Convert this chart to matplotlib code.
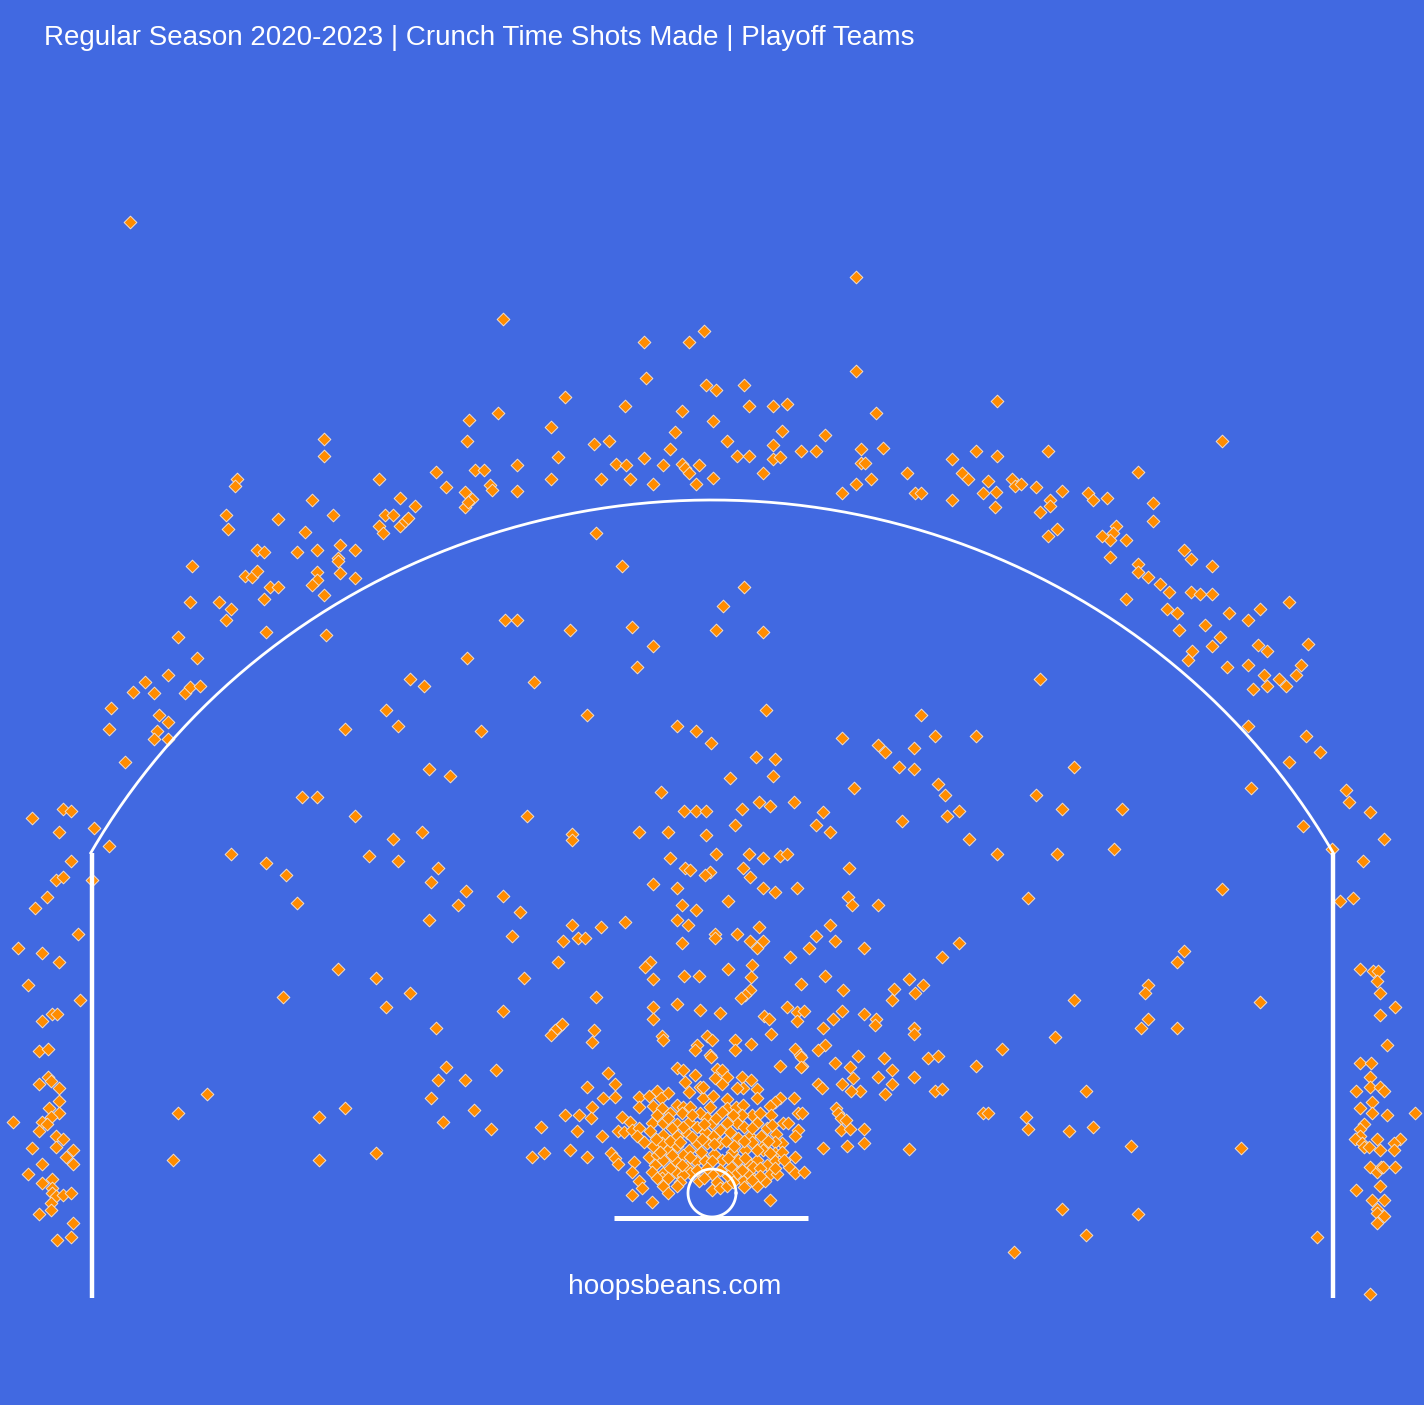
import numpy as np
import matplotlib
matplotlib.use("Agg")
import matplotlib.pyplot as plt

plt.rcParams['font.family'] = ['Liberation Sans', 'DejaVu Sans']

title = "Regular Season 2020-2023 | Crunch Time Shots Made | Playoff Teams"
site = "hoopsbeans.com"

# shot locations (chart x, chart y), y grows downward
above_arc_left = [(130,222),(503,319),(644,342),(689,342),(646,378),(565,397),(625,406),(682,411),(498,413),(469,420),
    (551,427),(675,432),(467,441),(324,439),(324,456),(594,444),(609,441),(670,449),(558,457),(644,458),(663,465),
    (616,464),(626,465),(682,464),(699,465),(685,468),(689,473),(237,479),(235,486),(226,515),(228,529),(312,500),
    (333,515),(278,519),(305,532),(257,550),(264,552),(297,552),(317,550),(340,545),(355,550),(338,558),(338,561),
    (192,566),(245,576),(252,577),(257,571),(317,572),(317,580),(312,585),(340,573),(355,578),(270,587),(278,587),
    (264,599),(324,595),(190,602),(219,602),(231,609),(226,620),(266,632),(326,635),(178,637),(197,658),(168,675),
    (145,682),(133,692),(154,693),(185,693),(190,687),(200,686),(111,708),(109,729),(159,715),(168,722),(157,731),
    (154,739),(168,739),(125,762),(379,479),(436,472),(446,487),(475,470),(484,470),(517,465),(551,479),(601,479),
    (630,479),(653,484),(696,484),(490,485),(492,490),(517,491),(465,492),(472,499),(465,507),(468,502),(400,498),
    (415,506),(385,515),(393,515),(379,526),(383,533),(400,526),(405,521),(408,518),(713,478)]

above_arc_right = [(856,277),(704,331),(856,371),(706,385),(716,390),(744,385),(749,406),(773,406),(787,404),(713,421),
    (876,413),(997,401),(782,431),(825,435),(727,441),(773,445),(861,449),(883,448),(1222,441),(816,451),(801,451),
    (737,456),(749,456),(773,459),(780,457),(861,463),(763,473),(865,463),(842,493),(856,484),(871,479),(907,473),
    (915,493),(921,493),(952,459),(976,451),(997,456),(1048,451),(962,473),(968,479),(988,481),(1012,479),(1015,486),
    (1021,484),(1036,487),(1062,491),(1088,493),(1093,500),(1107,498),(952,500),(983,493),(996,492),(995,507),
    (1050,500),(1050,506),(1040,512),(1057,529),(1048,536),(1138,472),(1153,503),(1153,521),(1116,526),(1113,533),
    (1110,540),(1102,536),(1126,540),(1110,557),(1138,564),(1138,572),(1148,577),(1160,584),(1169,592),(1184,550),
    (1191,559),(1212,566),(1191,592),(1200,594),(1212,594),(1126,599),(1167,609),(1177,613),(1229,613),(1248,620),
    (1260,609),(1289,602),(1205,625),(1179,630),(1220,637),(1212,646),(1192,651),(1188,660),(1258,645),(1267,651),
    (1308,644),(1227,667),(1248,665),(1264,675),(1253,689),(1267,686),(1279,679),(1286,686),(1296,675),(1301,665),
    (1248,726),(1306,736),(1320,752),(1289,762),(1251,788),(1346,790),(1349,802),(1370,812),(1303,826),(1384,839),
    (1363,861),(1332,849),(1340,901),(1353,898)]

left_corner = [(94,828),(109,846),(32,818),(63,809),(71,811),(59,832),(71,861),(92,880),(56,880),(63,877),(47,897),
    (35,908),(78,934),(18,948),(42,953),(59,962),(28,985),(80,1000),(42,1021),(52,1014),(57,1014),(39,1051),(48,1049),
    (48,1077),(51,1081),(39,1084),(59,1088),(59,1101),(49,1108),(59,1113),(51,1117),(42,1122),(47,1124),(39,1131),
    (13,1122),(56,1136),(63,1139),(56,1147),(73,1150),(32,1148),(66,1157),(73,1164),(42,1164),(28,1174),(42,1183),
    (52,1179),(52,1188),(52,1193),(56,1196),(63,1195),(71,1193),(51,1203),(51,1210),(39,1214),(73,1223),(71,1237),
    (57,1240)]

right_corner = [(1360,969),(1373,971),(1378,971),(1377,981),(1380,993),(1395,1007),(1380,1015),(1387,1045),(1360,1063),
    (1371,1063),(1370,1077),(1356,1091),(1370,1087),(1380,1087),(1384,1091),(1372,1102),(1360,1108),(1372,1113),
    (1387,1115),(1415,1113),(1364,1124),(1360,1129),(1360,1136),(1355,1139),(1362,1143),(1364,1147),(1369,1147),
    (1377,1139),(1400,1139),(1394,1143),(1380,1150),(1394,1150),(1370,1167),(1377,1172),(1381,1167),(1383,1167),
    (1395,1167),(1380,1186),(1356,1190),(1372,1200),(1384,1200),(1377,1209),(1377,1213),(1384,1216),(1377,1223),
    (1370,1294)]

midrange_left = [(596,533),(622,566),(505,620),(517,620),(570,630),(632,627),(653,646),(467,658),(637,667),(410,679),
    (424,686),(534,682),(587,715),(386,710),(398,726),(345,729),(481,731),(677,726),(696,731),(429,769),(450,776),
    (661,792),(302,797),(317,797),(355,816),(527,816),(684,811),(696,811),(706,811),(422,832),(393,839),(572,834),
    (572,840),(639,832),(668,832),(706,835),(231,854),(369,856),(398,861),(266,863),(286,875),(438,868),(431,882),
    (670,858),(685,868),(690,870),(710,872),(705,875),(653,884),(677,888),(466,891),(503,896),(458,905),(297,903),
    (682,905),(696,910),(520,912),(429,920),(677,920),(572,925),(625,922),(601,927),(688,925),(512,936),(563,941),
    (578,938),(585,938),(682,943),(558,962),(650,962),(645,967),(338,969),(376,978),(524,978),(653,979),(684,976),
    (699,976),(283,997),(410,993),(596,997),(677,1004),(386,1007),(503,1011),(653,1007),(700,1010),(436,1028),
    (558,1028),(562,1024),(555,1030),(551,1035),(594,1030),(592,1042),(653,1019),(662,1036),(663,1040),(707,1036),
    (697,1045),(695,1050),(710,1055),(446,1067),(496,1070),(438,1080),(465,1080),(587,1087),(207,1094),(431,1098),
    (345,1108),(178,1113),(319,1117),(474,1110),(443,1122),(491,1129),(541,1127),(565,1115),(579,1115),(592,1107),
    (591,1118),(577,1131),(376,1153),(319,1160),(173,1160),(532,1157),(544,1153),(570,1150),(587,1157)]

midrange_right = [(744,587),(723,606),(716,630),(763,632),(1040,679),(711,743),(766,710),(921,715),(935,736),(976,736),
    (842,738),(878,745),(885,752),(914,748),(899,767),(914,769),(756,757),(775,759),(773,776),(730,778),(854,788),
    (938,784),(945,795),(1074,767),(1036,795),(1062,809),(1122,809),(742,809),(759,802),(770,806),(794,802),(823,812),
    (947,816),(959,811),(902,821),(816,825),(830,832),(735,825),(749,854),(969,839),(1114,849),(716,854),(763,858),
    (780,856),(787,854),(997,854),(1057,854),(849,868),(743,868),(750,877),(763,888),(775,892),(797,888),(848,897),
    (852,905),(878,905),(1028,898),(1222,889),(728,901),(759,927),(830,925),(715,934),(737,934),(750,941),(816,936),
    (835,941),(763,941),(757,948),(715,938),(959,943),(864,948),(809,948),(790,957),(942,957),(1184,951),(1177,962),
    (728,969),(752,965),(751,977),(825,976),(909,979),(923,985),(915,993),(894,989),(892,1000),(843,990),(801,984),
    (750,990),(745,995),(741,998),(1148,985),(1145,993),(1074,1000),(1260,1002),(720,1013),(787,1007),(797,1012),
    (804,1011),(842,1011),(864,1014),(1148,1019),(1141,1028),(1177,1028),(712,1040),(735,1040),(751,1044),(771,1034),
    (764,1016),(769,1019),(797,1021),(833,1019),(823,1028),(876,1019),(875,1025),(914,1028),(914,1034),(735,1050),
    (1055,1037),(825,1045),(818,1050),(795,1049),(800,1055),(858,1056),(884,1058),(928,1058),(938,1056),(1002,1049),
    (850,1067),(802,1066),(835,1063),(892,1070),(976,1066),(878,1077),(842,1084),(853,1078),(860,1091),(851,1091),
    (818,1084),(822,1088),(892,1084),(885,1094),(914,1077),(935,1091),(942,1089),(1086,1091),(836,1108),(838,1113),
    (841,1118),(846,1120),(841,1130),(850,1129),(864,1129),(864,1143),(847,1146),(823,1148),(909,1149),(983,1113),
    (988,1113),(1026,1117),(1028,1129),(1069,1131),(1093,1127),(1131,1146),(1241,1148),(1062,1209),(1138,1214),
    (1086,1235),(1014,1252),(1317,1237)]

paint_left = [(608,1073),(615,1084),(603,1098),(615,1097),(677,1068),(683,1070),(695,1075),(685,1082),(689,1092),
    (700,1087),(639,1097),(639,1107),(649,1096),(657,1091),(668,1093),(661,1098),(653,1106),(662,1108),(677,1105),
    (683,1107),(690,1107),(703,1098),(622,1117),(630,1122),(602,1136),(618,1131),(624,1132),(632,1130),(639,1128),
    (637,1136),(644,1142),(652,1123),(657,1115),(663,1123),(677,1124),(682,1113),(689,1122),(697,1127),(700,1113),
    (707,1118),(670,1113),(663,1135),(677,1136),(687,1133),(697,1143),(706,1133),(653,1146),(662,1143),(668,1150),
    (677,1146),(689,1150),(649,1157),(657,1155),(663,1160),(675,1160),(683,1155),(696,1161),(706,1161),(655,1165),
    (687,1167),(611,1153),(615,1158),(618,1164),(634,1162),(632,1172),(652,1172),(663,1173),(676,1172),(690,1173),
    (683,1175),(639,1181),(642,1188),(662,1178),(680,1182),(677,1186),(663,1186),(699,1181),(668,1193),(632,1195),
    (652,1202)]

paint_right = [(711,1057),(780,1066),(801,1057),(801,1067),(717,1069),(722,1070),(715,1078),(727,1077),(722,1084),
    (742,1077),(751,1080),(743,1088),(737,1088),(757,1089),(757,1098),(780,1098),(775,1102),(794,1098),(770,1106),
    (713,1096),(703,1087),(727,1099),(727,1108),(710,1107),(736,1107),(743,1105),(752,1115),(760,1113),(742,1115),
    (771,1115),(798,1113),(802,1113),(783,1123),(788,1123),(757,1123),(737,1123),(727,1123),(712,1123),(798,1130),
    (795,1136),(776,1134),(750,1136),(761,1136),(720,1130),(730,1132),(713,1136),(705,1132),(738,1138),(752,1142),
    (782,1143),(775,1142),(762,1147),(745,1150),(720,1143),(707,1143),(732,1152),(714,1154),(775,1153),(763,1150),
    (795,1157),(738,1160),(757,1160),(775,1161),(705,1161),(722,1160),(750,1165),(767,1165),(789,1167),(795,1173),
    (804,1172),(731,1167),(720,1170),(737,1173),(770,1174),(777,1174),(749,1174),(712,1174),(765,1181),(743,1181),
    (717,1182),(757,1186),(744,1187),(712,1190),(720,1188),(727,1186),(770,1200)]

# shots hidden inside the dense part under the rim
paint_dense = [(668,1118),(672,1128),(683,1127),(692,1115),(704,1124),(716,1118),(722,1112),(733,1115),(744,1127),
    (752,1128),(767,1128),(772,1125),(650,1131),(656,1139),(670,1141),(680,1142),(692,1137),(702,1139),(714,1144),
    (726,1141),(734,1146),(744,1141),(757,1150),(768,1141),(770,1153),(782,1152),(660,1152),(672,1155),(690,1157),
    (701,1152),(712,1161),(728,1158),(745,1158),(753,1167),(760,1168),(784,1160),(657,1178),(670,1168),(682,1165),
    (697,1170),(707,1168),(742,1170),(728,1176),(760,1176),(775,1168),(704,1178),(733,1182),(752,1180),(668,1178)]

zones = [above_arc_left, above_arc_right, left_corner, right_corner, midrange_left, midrange_right,
    paint_left, paint_right, paint_dense]

bg = "#4169e1"
fig = plt.figure(figsize=(14.24, 14.05), dpi=100, facecolor=bg)
ax = fig.add_axes([0, 0, 1, 1], facecolor=bg)
ax.set_xlim(0, 1424)
ax.set_ylim(1405, 0)
ax.axis("off")

for zone in zones:
    pts = np.array(zone)
    ax.scatter(pts[:, 0], pts[:, 1], marker="D", s=42, color="#ff8c00", edgecolor="#f2dcc8", linewidth=0.7, zorder=2)

# court lines
hoop_x, hoop_y = 712, 1193
t = np.radians(np.linspace(29.4, 150.6, 300))
ax.plot(hoop_x + 713 * np.cos(t), hoop_y - 693 * np.sin(t), color="white", lw=2, zorder=3)
ax.plot([91.5, 91.5], [853, 1298], color="white", lw=3.2, solid_capstyle="butt", zorder=3)
ax.plot([1333, 1333], [853, 1298], color="white", lw=3.2, solid_capstyle="butt", zorder=3)
ax.plot([614, 808], [1217.5, 1217.5], color="white", lw=3.6, solid_capstyle="butt", zorder=3)
t = np.linspace(0, 2 * np.pi, 100)
ax.plot(hoop_x + 24 * np.cos(t), hoop_y + 24 * np.sin(t), color="white", lw=2, zorder=3)

ax.text(44, 38, title, color="white", fontsize=20.03, ha="left", va="center")
ax.text(674.5, 1287, site, color="white", fontsize=20.2, ha="center", va="center")

fig.savefig("out.png", dpi=100, facecolor=bg)
